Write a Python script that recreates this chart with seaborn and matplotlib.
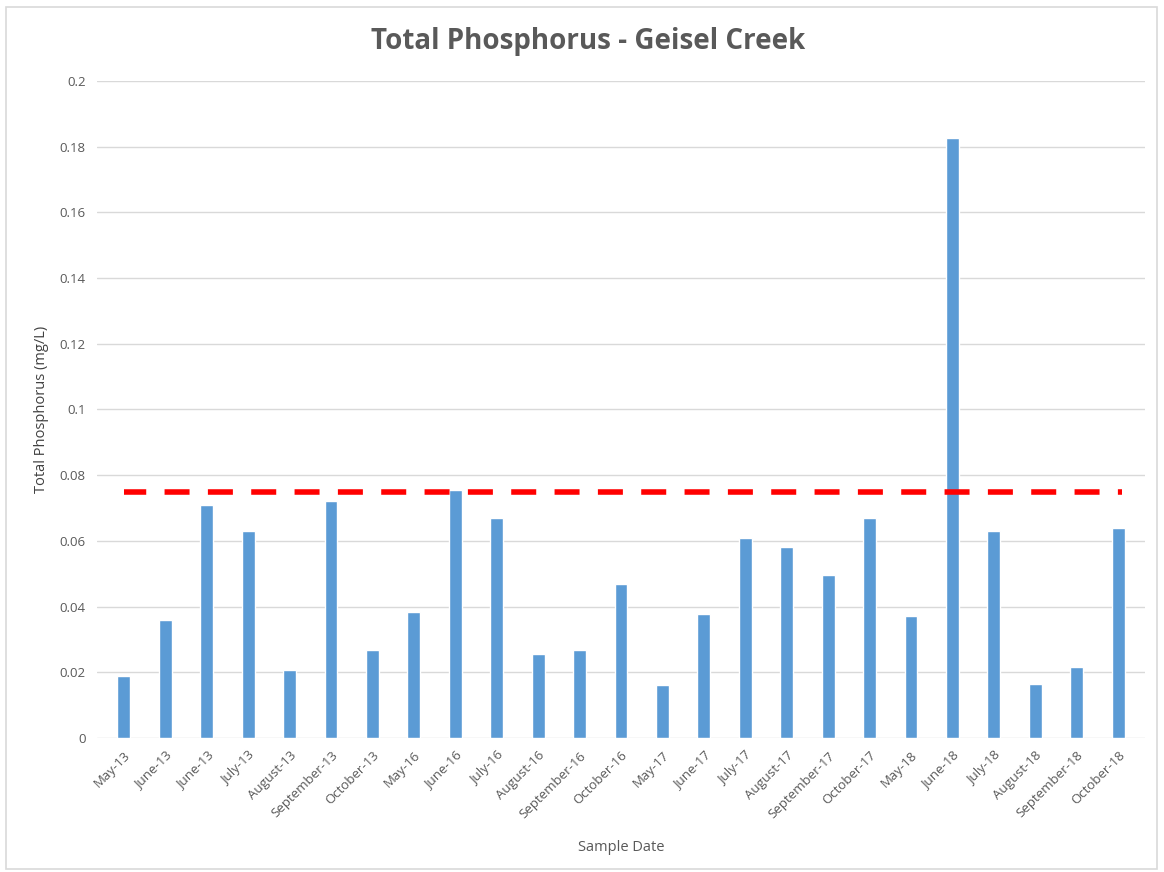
import matplotlib
matplotlib.use("Agg")
import matplotlib.pyplot as plt
import seaborn as sns
import pandas as pd
from matplotlib.patches import Rectangle

sample_dates = [
    "May-13", "June-13", "June-13", "July-13", "August-13", "September-13", "October-13",
    "May-16", "June-16", "July-16", "August-16", "September-16", "October-16",
    "May-17", "June-17", "July-17", "August-17", "September-17", "October-17",
    "May-18", "June-18", "July-18", "August-18", "September-18", "October-18",
]
phosphorus = [
    0.0189, 0.0360, 0.0710, 0.0630, 0.0207, 0.0721, 0.0268,
    0.0384, 0.0755, 0.0670, 0.0256, 0.0268, 0.0469,
    0.0161, 0.0377, 0.0609, 0.0581, 0.0496, 0.0670,
    0.0371, 0.1826, 0.0630, 0.0164, 0.0216, 0.0639,
]
threshold = 0.075
y_ticks = [0, 0.02, 0.04, 0.06, 0.08, 0.1, 0.12, 0.14, 0.16, 0.18, 0.2]
y_tick_labels = ["0", "0.02", "0.04", "0.06", "0.08", "0.1", "0.12", "0.14", "0.16", "0.18", "0.2"]

sns.set_theme(style="white")
plt.rcParams["font.family"] = ["Open Sans", "DejaVu Sans"]

text_gray = "#595959"
bar_blue = "#5B9BD5"

df = pd.DataFrame({"pos": range(len(sample_dates)), "value": phosphorus})

fig = plt.figure(figsize=(11.64, 8.72), dpi=100)
fig.patches.append(Rectangle((0.005, 0.004), 0.989, 0.988, transform=fig.transFigure,
                             fill=False, edgecolor="#d9d9d9", linewidth=1.2))
ax = fig.add_axes([0.0833, 0.1537, 0.9004, 0.7534])

sns.barplot(data=df, x="pos", y="value", color=bar_blue, width=0.31,
            saturation=1, ax=ax, zorder=3)

# target level drawn across the category span
ax.plot([0, len(sample_dates) - 0.9], [threshold, threshold], color="#FF0000",
        linewidth=4, linestyle=(0.5, (4.5, 3.3)), zorder=4)

ax.set_ylim(0, 0.2)
ax.set_xlim(-0.65, len(sample_dates) - 0.35)
ax.set_yticks(y_ticks)
ax.set_yticklabels(y_tick_labels, color=text_gray, fontsize=9.5)
ax.set_xticks(range(len(sample_dates)))
ax.set_xticklabels(sample_dates, rotation=45, ha="right", rotation_mode="anchor",
                   color=text_gray, fontsize=9.5)
ax.tick_params(axis="both", length=0, pad=8)
ax.yaxis.grid(True, color="#d9d9d9", linewidth=1)
ax.set_axisbelow(True)
for s in ax.spines.values():
    s.set_visible(False)

ax.set_xlabel("Sample Date", color=text_gray, fontsize=10.5, labelpad=14)
ax.set_ylabel("Total Phosphorus (mg/L)", color="#404040", fontsize=10.5, labelpad=8)
fig.suptitle("Total Phosphorus - Geisel Creek", x=0.505, y=0.952, va="center",
             fontsize=20, fontweight="bold", color=text_gray)

fig.savefig("out.png", dpi=100, facecolor="white")
